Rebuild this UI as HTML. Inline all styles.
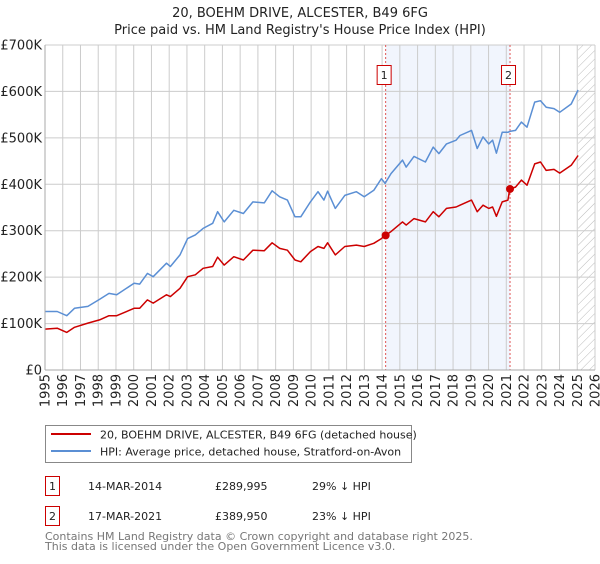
<!DOCTYPE html>
<html><head><meta charset="utf-8"><style>
body{margin:0;background:#fff;font-family:"DejaVu Sans","Liberation Sans",sans-serif;}
svg text{font-family:"DejaVu Sans","Liberation Sans",sans-serif;}
</style></head><body>
<svg id="chart" width="600" height="560" xmlns="http://www.w3.org/2000/svg">
<defs><pattern id="hatch" width="6" height="6" patternUnits="userSpaceOnUse" patternTransform="rotate(45)"><line x1="0" y1="0" x2="0" y2="6" stroke="#bbb" stroke-width="1"/></pattern></defs>
<text x="300" y="17" text-anchor="middle" font-size="13" fill="#222">20, BOEHM DRIVE, ALCESTER, B49 6FG</text>
<text x="300" y="34" text-anchor="middle" font-size="13" fill="#222">Price paid vs. HM Land Registry's House Price Index (HPI)</text>
<g id="plot"></g>
<g>
<rect x="45.5" y="425.5" width="366" height="37" fill="#fff" stroke="#888"/>
<line x1="51" y1="434" x2="91" y2="434" stroke="#cc0000" stroke-width="2"/>
<text x="100" y="438.5" font-size="11" fill="#222">20, BOEHM DRIVE, ALCESTER, B49 6FG (detached house)</text>
<line x1="51" y1="451" x2="91" y2="451" stroke="#5b8fd4" stroke-width="2"/>
<text x="100" y="455.5" font-size="11" fill="#222">HPI: Average price, detached house, Stratford-on-Avon</text>
</g>
<g font-size="11" fill="#222">
<rect x="45.5" y="476.5" width="14" height="19" fill="#fff" stroke="#cc0000"/>
<text x="52.5" y="490" text-anchor="middle">1</text>
<text x="88" y="490">14-MAR-2014</text><text x="215" y="490">£289,995</text><text x="312" y="490">29% ↓ HPI</text>
<rect x="45.5" y="506.5" width="14" height="19" fill="#fff" stroke="#cc0000"/>
<text x="52.5" y="520" text-anchor="middle">2</text>
<text x="88" y="520">17-MAR-2021</text><text x="215" y="520">£389,950</text><text x="312" y="520">23% ↓ HPI</text>
</g>
<text x="45" y="540" font-size="11" fill="#777">Contains HM Land Registry data © Crown copyright and database right 2025.</text>
<text x="45" y="550" font-size="11" fill="#777">This data is licensed under the Open Government Licence v3.0.</text>
</svg>
<script>
const years=[1995.0,1995.69,1996.23,1996.66,1997.42,1998.07,1998.61,1999.04,2000.02,2000.34,2000.77,2001.10,2001.85,2002.07,2002.61,2003.04,2003.47,2003.91,2004.45,2004.73,2005.10,2005.64,2006.18,2006.72,2007.36,2007.80,2008.23,2008.66,2009.09,2009.42,2009.96,2010.39,2010.72,2010.93,2011.36,2011.90,2012.55,2012.99,2013.53,2013.96,2014.17,2014.50,2015.15,2015.36,2015.80,2016.44,2016.88,2017.20,2017.63,2018.17,2018.39,2019.04,2019.36,2019.69,2020.01,2020.23,2020.44,2020.77,2021.09,2021.20,2021.52,2021.85,2022.17,2022.60,2022.93,2023.25,2023.69,2024.01,2024.66,2025.05];
const hpiValues=[126,126,117,133,137,152,165,162,187,185,208,201,230,223,248,283,291,305,316,341,319,344,337,362,360,386,373,366,330,330,362,384,366,385,348,376,384,373,387,412,402,423,452,437,460,448,480,466,487,495,505,516,477,502,487,495,467,512,512,514,516,534,523,577,580,566,563,555,573,603];
const propertyValues=[88,90,81,92,101,108,117,117,133,133,151,144,162,158,176,201,205,219,223,243,226,244,237,258,257,274,262,258,237,233,255,266,262,274,248,266,269,266,273,283,290,298,319,312,326,319,341,330,348,351,355,366,341,355,348,351,331,362,366,390,394,409,398,444,448,430,432,424,441,462];
const saleYears=[2014.2,2021.21];
const saleValues=[289.995,389.95];
const saleLabels=["1","2"];
const yTicks=[0,100,200,300,400,500,600,700];
const yTickLabels=["£0","£100K","£200K","£300K","£400K","£500K","£600K","£700K"];
const xTicks=[1995,1996,1997,1998,1999,2000,2001,2002,2003,2004,2005,2006,2007,2008,2009,2010,2011,2012,2013,2014,2015,2016,2017,2018,2019,2020,2021,2022,2023,2024,2025,2026];
const L=45,R=595,T=45,B=370,X0=1995,X1=2026,YMAX=700,DATA_END=2025.05;
const xs=v=>L+(v-X0)/(X1-X0)*(R-L);
const ys=v=>B-v/YMAX*(B-T);
const NS="http://www.w3.org/2000/svg";
const plot=document.getElementById('plot');
function mk(tag,attrs,parent){const e=document.createElementNS(NS,tag);for(const k in attrs)e.setAttribute(k,attrs[k]);(parent||plot).appendChild(e);return e;}
// shaded span
let sh=mk('rect',{x:xs(saleYears[0]),y:T,width:xs(saleYears[1])-xs(saleYears[0]),height:B-T,fill:'#eef3fc',opacity:0.8});


// hatch
let ht=mk('rect',{x:xs(DATA_END),y:T,width:R-xs(DATA_END),height:B-T,fill:'url(#hatch)'});


// grid
yTicks.forEach((v,i)=>{
  let g=mk('line',{x1:L,x2:R,y1:ys(v),y2:ys(v),stroke:'#ccc','stroke-width':1});
  
  
  let t=mk('text',{x:L-3,y:ys(v)+4.5,'text-anchor':'end','font-size':13,fill:'#222'});
  t.textContent=yTickLabels[i];
  
  
});
xTicks.forEach(v=>{
  let g=mk('line',{x1:xs(v),x2:xs(v),y1:T,y2:B,stroke:'#ccc','stroke-width':1});
  
  
  let t=mk('text',{x:0,y:0,'text-anchor':'end','font-size':13,fill:'#222',transform:`translate(${xs(v)+4.5},${B+4}) rotate(-90)`});
  t.textContent=v;
  
  
});
// sale vlines and boxes
saleYears.forEach((v,i)=>{
  let l=mk('line',{x1:xs(v),x2:xs(v),y1:T,y2:B,stroke:'#e05555','stroke-width':1,'stroke-dasharray':'2,2'});
  
  
  let r=mk('rect',{x:xs(v)-8.5,y:65.5,width:14,height:19,fill:'#fff',stroke:'#cc0000'});
  
  
  let t=mk('text',{x:xs(v)-1.5,y:79,'text-anchor':'middle','font-size':11,fill:'#222'});
  t.textContent=saleLabels[i];
  
  
});
function path(vals,color,name){
  let d=vals.map((v,i)=>(i?'L':'M')+xs(years[i]).toFixed(1)+','+ys(v).toFixed(1)).join('');
  let p=mk('path',{d:d,fill:'none',stroke:color,'stroke-width':1.5,'stroke-linejoin':'round'});
  
  
}
path(hpiValues,'#5b8fd4','hpi-line');
path(propertyValues,'#cc0000','property-price-line');
saleYears.forEach((v,i)=>{
  let c=mk('circle',{cx:xs(v),cy:ys(saleValues[i]),r:4,fill:'#cc0000'});
  
  
});
// axes
let ax=mk('line',{x1:L,x2:R,y1:B,y2:B,stroke:'#aaa'});


let ay=mk('line',{x1:L,x2:L,y1:T,y2:B,stroke:'#aaa'});


</script>
</body></html>
